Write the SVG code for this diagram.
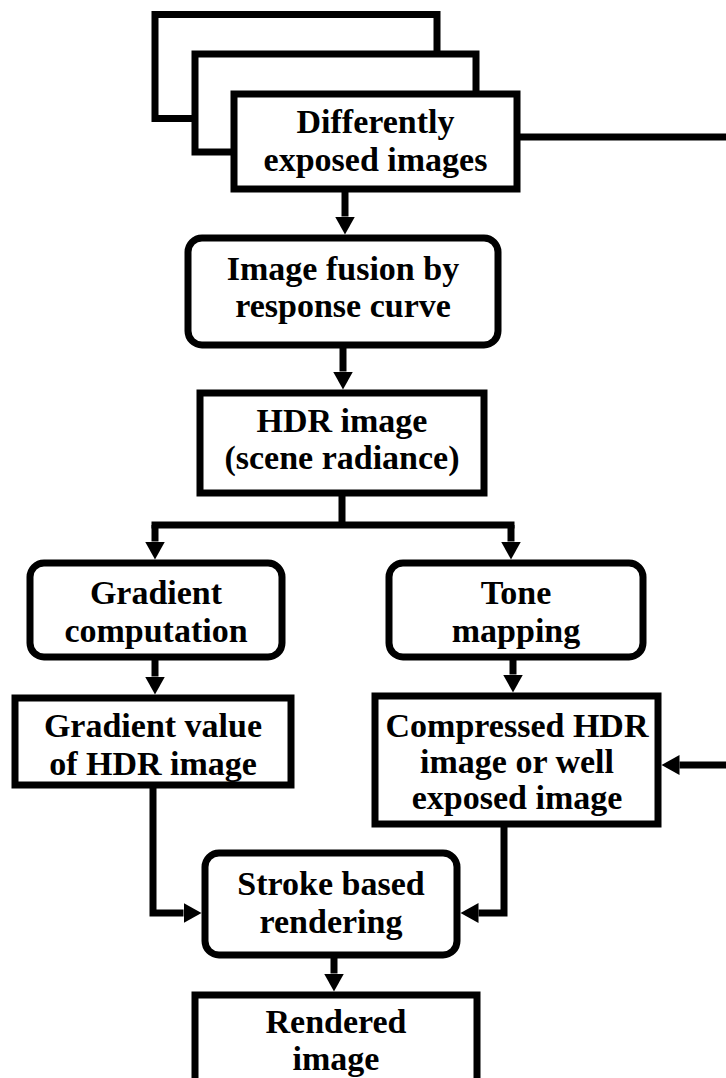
<svg xmlns="http://www.w3.org/2000/svg" width="726" height="1078" viewBox="0 0 726 1078">
<defs>
<style>
.box{fill:#fff;stroke:#000;stroke-width:7}
.ln{fill:none;stroke:#000;stroke-width:7}
text{font-family:"Liberation Serif","Times New Roman",serif;font-weight:bold;font-size:34px;fill:#000;text-anchor:middle}
</style>
<marker id="ah" markerUnits="userSpaceOnUse" markerWidth="20" markerHeight="22" viewBox="0 -11 20 22" refX="0" refY="0" orient="auto">
<path d="M0,-10 L18,0 L0,10 Z" fill="#000"/>
</marker>
</defs>
<rect width="726" height="1078" fill="#fff"/>
<g id="connectors">
<path class="ln" d="M517,137 H726"/>
<path class="ln" d="M345,189 V216.5" marker-end="url(#ah)"/>
<path class="ln" d="M343,345 V371.5" marker-end="url(#ah)"/>
<path class="ln" d="M342,493 V525 M151.5,525 H514.5"/>
<path class="ln" d="M155,525 V541.5" marker-end="url(#ah)"/>
<path class="ln" d="M511,525 V541.5" marker-end="url(#ah)"/>
<path class="ln" d="M155,657 V676.5" marker-end="url(#ah)"/>
<path class="ln" d="M513,657 V674.5" marker-end="url(#ah)"/>
<path class="ln" d="M153,785 V913 H183.5" marker-end="url(#ah)"/>
<path class="ln" d="M504,824 V913 H478.5" marker-end="url(#ah)"/>
<path class="ln" d="M334,955 V973.5" marker-end="url(#ah)"/>
<path class="ln" d="M726,765 H679.5" marker-end="url(#ah)"/>
</g>
<g id="n-input">
<rect class="box" x="155" y="14.5" width="282" height="104"/>
<rect class="box" x="195" y="54" width="281" height="98"/>
<rect class="box" x="234" y="94" width="283" height="95"/>
<text x="375.5" y="133">Differently</text>
<text x="375.5" y="171">exposed images</text>
</g>
<g id="n-fusion">
<rect class="box" x="188" y="238" width="310" height="107" rx="14"/>
<text x="343" y="280">Image fusion by</text>
<text x="343" y="317">response curve</text>
</g>
<g id="n-hdr">
<rect class="box" x="200" y="393" width="284" height="100"/>
<text x="342" y="432">HDR image</text>
<text x="342" y="469">(scene radiance)</text>
</g>
<g id="n-gradcomp">
<rect class="box" x="30" y="563" width="252" height="94" rx="14"/>
<text x="156" y="604">Gradient</text>
<text x="156" y="642">computation</text>
</g>
<g id="n-tone">
<rect class="box" x="389" y="563" width="254" height="94" rx="14"/>
<text x="516" y="604">Tone</text>
<text x="516" y="642">mapping</text>
</g>
<g id="n-gradval">
<rect class="box" x="15" y="698" width="276" height="87"/>
<text x="153" y="737">Gradient value</text>
<text x="153" y="775">of HDR image</text>
</g>
<g id="n-compressed">
<rect class="box" x="375" y="696" width="283" height="128"/>
<text x="517" y="737">Compressed HDR</text>
<text x="517" y="773">image or well</text>
<text x="517" y="809">exposed image</text>
</g>
<g id="n-stroke">
<rect class="box" x="205" y="853" width="252" height="102" rx="14"/>
<text x="331" y="895">Stroke based</text>
<text x="331" y="933">rendering</text>
</g>
<g id="n-rendered">
<rect class="box" x="195" y="995" width="282" height="110"/>
<text x="336" y="1033">Rendered</text>
<text x="336" y="1070">image</text>
</g>
</svg>
